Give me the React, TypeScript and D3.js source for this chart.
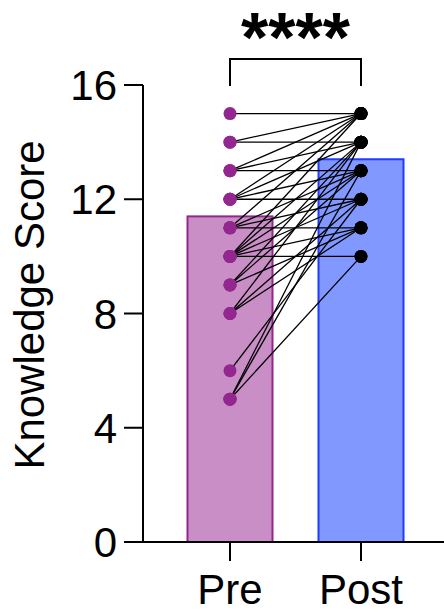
import React from "react";
import * as d3 from "d3";

const categories = ["Pre", "Post"];
const barMeans = [11.4, 13.4];
const yTicks = [0, 4, 8, 12, 16];
// paired subject scores (pre -> post)
const preScores = [15, 14, 14, 13, 13, 13, 12, 12, 12, 12, 11, 11, 11, 11, 10, 10, 10, 10, 10, 10, 9, 9, 9, 8, 8, 8, 6, 5, 5, 5];
const postScores = [15, 15, 14, 15, 14, 13, 15, 14, 13, 12, 15, 13, 12, 11, 15, 14, 13, 12, 11, 10, 14, 13, 11, 14, 12, 11, 12, 14, 13, 10];
const significance = "****";

const W = 444;
const H = 612;
const font = "'Liberation Sans', Arial, Helvetica, sans-serif";

export default function App() {
  const y = d3.scaleLinear().domain([0, 16]).range([542, 85]);
  const x = d3.scalePoint<string>().domain(categories).range([230, 361]);
  const barW = 85;
  const axisX = 143;
  const fills = ["#C98EC6", "#8098FF"];
  const strokes = ["#93278F", "#1F3BFF"];
  const dotColors = ["#93278F", "#000000"];

  const line = d3.line<[number, number]>();

  const preX = x("Pre")!;
  const postX = x("Post")!;

  return (
    <svg
      width={W}
      height={H}
      style={{ position: "absolute", left: 0, top: 0, background: "#fff" }}
    >
      {categories.map((c, i) => (
        <rect
          key={c}
          x={x(c)! - barW / 2}
          y={y(barMeans[i])}
          width={barW}
          height={y(0) - y(barMeans[i])}
          fill={fills[i]}
          stroke={strokes[i]}
          strokeWidth={2}
        />
      ))}
      {preScores.map((p, i) => (
        <path
          key={"l" + i}
          d={line([
            [preX, y(p)],
            [postX, y(postScores[i])],
          ])!}
          stroke="#000"
          strokeWidth={1.3}
          fill="none"
        />
      ))}
      {preScores.map((p, i) => (
        <circle key={"a" + i} cx={preX} cy={y(p)} r={6.5} fill={dotColors[0]} />
      ))}
      {postScores.map((p, i) => (
        <circle key={"b" + i} cx={postX} cy={y(p)} r={6.5} fill={dotColors[1]} />
      ))}
      <line x1={axisX} x2={axisX} y1={y(16)} y2={y(0)} stroke="#000" strokeWidth={2} />
      {yTicks.map((t) => (
        <g key={t}>
          <line x1={124} x2={axisX} y1={y(t)} y2={y(t)} stroke="#000" strokeWidth={2} />
          <text
            x={117}
            y={y(t)}
            dy="0.36em"
            textAnchor="end"
            fontFamily={font}
            fontSize={42}
            fill="#000"
          >
            {t}
          </text>
        </g>
      ))}
      <line x1={124} x2={W} y1={y(0)} y2={y(0)} stroke="#000" strokeWidth={2} />
      {categories.map((c) => (
        <g key={c}>
          <line x1={x(c)!} x2={x(c)!} y1={y(0)} y2={561} stroke="#000" strokeWidth={2} />
          <text
            x={x(c)!}
            y={604}
            textAnchor="middle"
            fontFamily={font}
            fontSize={42}
            fill="#000"
          >
            {c}
          </text>
        </g>
      ))}
      <text
        transform={`translate(44, ${(137 + 473) / 2}) rotate(-90)`}
        textAnchor="middle"
        fontFamily={font}
        fontSize={42}
        fill="#000"
      >
        Knowledge Score
      </text>
      <path
        d={`M${preX},86 V59 H${postX} V86`}
        fill="none"
        stroke="#000"
        strokeWidth={2}
      />
      <text
        x={(preX + postX) / 2}
        y={62}
        textAnchor="middle"
        fontFamily={font}
        fontWeight="bold"
        fontSize={70}
        fill="#000"
      >
        {significance}
      </text>
    </svg>
  );
}
